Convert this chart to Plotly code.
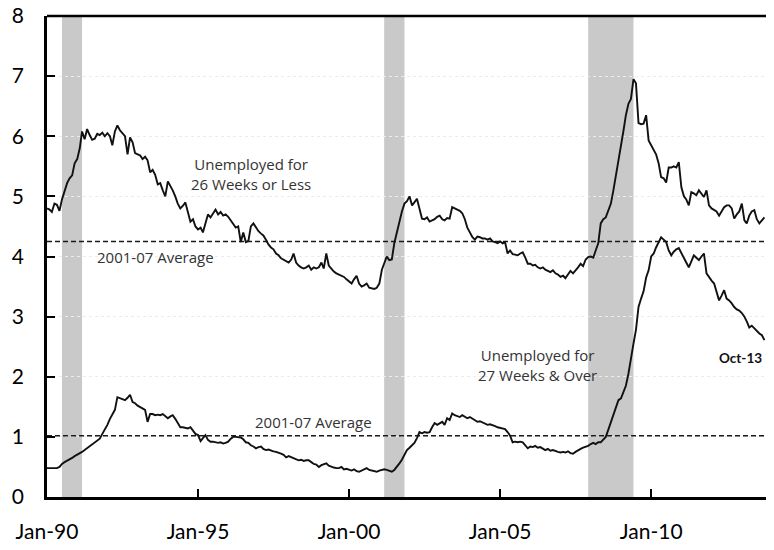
import pandas as pd
import plotly.graph_objects as go

# monthly, Jan-1990 .. Oct-2013 (percent of labor force)
months = pd.date_range("1990-01-01", periods=286, freq="MS")

short_term = [
    # 1990
    4.80, 4.78, 4.74, 4.88, 4.86, 4.76, 4.95, 5.10, 5.22, 5.30, 5.35, 5.55,
    # 1991
    5.62, 5.80, 6.08, 5.95, 6.12, 6.02, 5.94, 5.96, 6.04, 6.02, 6.06, 6.00,
    # 1992
    6.05, 6.00, 5.85, 6.08, 6.18, 6.10, 6.05, 6.00, 5.70, 5.98, 5.90, 5.72,
    # 1993
    5.70, 5.68, 5.62, 5.66, 5.60, 5.40, 5.44, 5.36, 5.20, 5.22, 5.10, 5.00,
    # 1994
    5.25, 5.18, 5.10, 5.00, 4.88, 4.80, 4.84, 4.90, 4.72, 4.58, 4.62, 4.50,
    # 1995
    4.45, 4.48, 4.40, 4.55, 4.70, 4.65, 4.72, 4.78, 4.70, 4.74, 4.68, 4.70,
    # 1996
    4.66, 4.60, 4.55, 4.48, 4.50, 4.24, 4.40, 4.24, 4.26, 4.50, 4.55, 4.48,
    # 1997
    4.42, 4.38, 4.35, 4.28, 4.20, 4.15, 4.12, 4.05, 4.02, 3.97, 3.95, 3.92,
    # 1998
    3.90, 3.95, 4.05, 3.90, 3.85, 3.82, 3.80, 3.82, 3.85, 3.78, 3.82, 3.80,
    # 1999
    3.82, 3.90, 3.80, 4.05, 3.85, 3.80, 3.75, 3.72, 3.70, 3.68, 3.66, 3.62,
    # 2000
    3.58, 3.55, 3.62, 3.68, 3.55, 3.50, 3.52, 3.55, 3.48, 3.47, 3.46, 3.48,
    # 2001
    3.55, 3.78, 3.88, 4.00, 3.94, 3.95, 4.22, 4.40, 4.60, 4.75, 4.88, 4.92,
    # 2002
    5.00, 4.85, 4.90, 4.96, 4.80, 4.63, 4.62, 4.65, 4.58, 4.60, 4.62, 4.66,
    # 2003
    4.68, 4.62, 4.60, 4.64, 4.63, 4.82, 4.80, 4.78, 4.76, 4.72, 4.62, 4.48,
    # 2004
    4.40, 4.32, 4.28, 4.33, 4.32, 4.30, 4.30, 4.28, 4.30, 4.25, 4.24, 4.22,
    # 2005
    4.25, 4.22, 4.24, 4.05, 4.10, 4.04, 4.03, 4.02, 4.05, 4.07, 3.98, 3.88,
    # 2006
    3.88, 3.85, 3.86, 3.82, 3.80, 3.82, 3.78, 3.76, 3.74, 3.77, 3.72, 3.70,
    # 2007
    3.66, 3.68, 3.64, 3.70, 3.76, 3.72, 3.78, 3.82, 3.88, 3.84, 3.95, 3.99,
    # 2008
    4.00, 3.98, 4.10, 4.22, 4.55, 4.62, 4.65, 4.78, 4.88, 5.10, 5.35, 5.55,
    # 2009
    5.85, 6.10, 6.35, 6.54, 6.62, 6.95, 6.88, 6.22, 6.20, 6.21, 6.35, 5.93,
    # 2010
    5.85, 5.76, 5.70, 5.55, 5.32, 5.30, 5.23, 5.48, 5.48, 5.50, 5.48, 5.57,
    # 2011
    5.15, 5.00, 4.95, 4.85, 5.07, 5.05, 5.02, 5.10, 5.05, 4.99, 5.10, 4.85,
    # 2012
    4.80, 4.77, 4.75, 4.68, 4.74, 4.82, 4.85, 4.85, 4.80, 4.63, 4.70, 4.75,
    # 2013
    4.88, 4.60, 4.55, 4.68, 4.75, 4.77, 4.62, 4.55, 4.60, 4.65,
]

long_term = [
    # 1990
    0.48, 0.48, 0.48, 0.48, 0.48, 0.50, 0.55, 0.58, 0.60, 0.62, 0.65, 0.68,
    # 1991
    0.70, 0.73, 0.75, 0.78, 0.81, 0.84, 0.88, 0.90, 0.94, 0.97, 1.05, 1.12,
    # 1992
    1.20, 1.30, 1.38, 1.45, 1.66, 1.64, 1.62, 1.61, 1.65, 1.70, 1.58, 1.56,
    # 1993
    1.52, 1.50, 1.48, 1.45, 1.25, 1.38, 1.38, 1.36, 1.37, 1.36, 1.38, 1.34,
    # 1994
    1.31, 1.34, 1.36, 1.30, 1.22, 1.16, 1.16, 1.15, 1.14, 1.16, 1.10, 1.05,
    # 1995
    1.03, 0.93, 0.98, 1.03, 0.95, 0.92, 0.92, 0.91, 0.90, 0.91, 0.89, 0.90,
    # 1996
    0.92, 0.97, 1.00, 1.00, 1.00, 0.99, 0.96, 0.91, 0.90, 0.86, 0.84, 0.81,
    # 1997
    0.83, 0.84, 0.80, 0.78, 0.79, 0.77, 0.76, 0.75, 0.74, 0.72, 0.70, 0.66,
    # 1998
    0.68, 0.66, 0.65, 0.63, 0.61, 0.62, 0.60, 0.61, 0.61, 0.58, 0.55, 0.54,
    # 1999
    0.50, 0.53, 0.54, 0.56, 0.52, 0.50, 0.49, 0.48, 0.48, 0.50, 0.46, 0.47,
    # 2000
    0.45, 0.44, 0.46, 0.43, 0.42, 0.44, 0.46, 0.48, 0.45, 0.44, 0.42, 0.42,
    # 2001
    0.44, 0.45, 0.46, 0.45, 0.44, 0.42, 0.45, 0.50, 0.56, 0.62, 0.70, 0.78,
    # 2002
    0.82, 0.86, 0.90, 0.98, 1.08, 1.06, 1.08, 1.07, 1.08, 1.16, 1.23, 1.20,
    # 2003
    1.22, 1.25, 1.20, 1.31, 1.28, 1.39, 1.36, 1.34, 1.33, 1.36, 1.33, 1.31,
    # 2004
    1.33, 1.30, 1.28, 1.25, 1.26, 1.24, 1.22, 1.20, 1.21, 1.20, 1.18, 1.16,
    # 2005
    1.15, 1.15, 1.13, 1.08, 1.02, 0.91, 0.92, 0.91, 0.92, 0.91, 0.86, 0.81,
    # 2006
    0.84, 0.83, 0.85, 0.82, 0.83, 0.80, 0.78, 0.80, 0.77, 0.78, 0.76, 0.75,
    # 2007
    0.74, 0.75, 0.74, 0.76, 0.73, 0.72, 0.75, 0.78, 0.80, 0.82, 0.83, 0.85,
    # 2008
    0.88, 0.90, 0.88, 0.91, 0.91, 0.95, 1.00, 1.12, 1.25, 1.39, 1.50, 1.61,
    # 2009
    1.64, 1.74, 1.85, 2.05, 2.32, 2.55, 2.78, 3.16, 3.30, 3.42, 3.65, 3.77,
    # 2010
    4.00, 4.05, 4.15, 4.25, 4.32, 4.28, 4.24, 4.10, 4.02, 4.08, 4.12, 4.14,
    # 2011
    4.05, 3.97, 3.90, 3.82, 3.92, 4.02, 3.98, 3.94, 4.00, 4.05, 3.72, 3.65,
    # 2012
    3.60, 3.55, 3.40, 3.27, 3.35, 3.44, 3.30, 3.27, 3.22, 3.16, 3.12, 3.10,
    # 2013
    3.06, 3.00, 2.92, 2.82, 2.85, 2.80, 2.77, 2.72, 2.69, 2.61,
]

# 2001-07 averages
short_avg = 4.25
long_avg = 1.02

# recession periods
recessions = [("1990-07-01", "1991-03-01"), ("2001-03-01", "2001-11-01"), ("2007-12-01", "2009-06-01")]

tick_dates = ["1990-01-01", "1995-01-01", "2000-01-01", "2005-01-01", "2010-01-01"]
tick_text = ["Jan-90", "Jan-95", "Jan-00", "Jan-05", "Jan-10"]

x_start, x_end = "1990-01-01", "2014-01-25"

fig = go.Figure()

for start, end in recessions:
    fig.add_shape(type="rect", xref="x", yref="y", x0=start, x1=end, y0=0, y1=8,
                  fillcolor="#c9c9c9", line=dict(width=0), layer="below")

# top frame line of the plot box
fig.add_shape(type="line", xref="paper", yref="paper", x0=0, x1=1, y0=1, y1=1,
              line=dict(color="black", width=2.5))

for avg in (short_avg, long_avg):
    fig.add_trace(go.Scatter(x=[x_start, x_end], y=[avg, avg], mode="lines",
                             line=dict(color="#1a1a1a", width=1.5, dash="5px,3px"),
                             hoverinfo="skip", showlegend=False))

fig.add_trace(go.Scatter(x=months, y=short_term, mode="lines",
                         line=dict(color="#111111", width=1.9), showlegend=False))
fig.add_trace(go.Scatter(x=months, y=long_term, mode="lines",
                         line=dict(color="#111111", width=1.9), showlegend=False))

note_font = dict(family="Open Sans, sans-serif", size=15, color="#333333")
fig.add_annotation(x="1996-10-01", y=5.38, text="Unemployed for<br>26 Weeks or Less",
                   showarrow=False, font=note_font, align="center")
fig.add_annotation(x="2006-04-01", y=2.19, text="Unemployed for<br>27 Weeks & Over",
                   showarrow=False, font=note_font, align="center")
fig.add_annotation(x="1991-08-01", y=3.99, text="2001-07 Average", xanchor="left",
                   showarrow=False, font=note_font)
fig.add_annotation(x="1996-11-01", y=1.25, text="2001-07 Average", xanchor="left",
                   showarrow=False, font=note_font)
fig.add_annotation(x="2013-10-01", y=2.31, text="Oct-13", showarrow=False, xanchor="right",
                   font=dict(family="Lato, sans-serif", size=13.5, color="#111111", weight="bold"))

fig.update_xaxes(type="date", range=[x_start, x_end], tickvals=tick_dates, ticktext=tick_text,
                 ticks="inside", ticklen=8, tickwidth=2, tickcolor="black",
                 showline=True, linecolor="black", linewidth=2.5,
                 showgrid=False, zeroline=False, automargin=False, ticklabelstandoff=14,
                 ticklabeloverflow="allow",
                 tickfont=dict(family="Lato, sans-serif", size=21, color="black"))
fig.update_yaxes(range=[0, 8], dtick=1, ticks="inside", ticklen=8, tickwidth=2, tickcolor="black",
                 showline=True, linecolor="black", linewidth=2.5,
                 showgrid=True, gridcolor="#ececec", griddash="dot", gridwidth=1,
                 zeroline=False, automargin=False, ticklabelstandoff=16,
                 ticklabeloverflow="allow",
                 tickfont=dict(family="Lato, sans-serif", size=21, color="black"))

# page body adds 8px around the figure, so the figure is sized to fill the rest
fig.update_layout(width=766, height=542, plot_bgcolor="white", paper_bgcolor="white",
                  margin=dict(l=39, r=0, t=8, b=53), showlegend=False)

fig.write_html("out.html")
